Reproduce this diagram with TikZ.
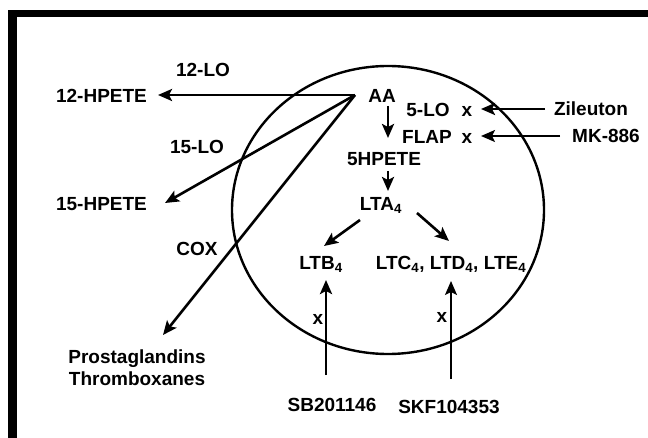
\documentclass[tikz,border=0pt]{standalone}
\usepackage{fontspec}
\setmainfont{Liberation Sans}
\usetikzlibrary{arrows.meta,shapes.geometric}
\begin{document}
\begin{tikzpicture}[x=1pt,y=-1pt,
  lbl/.style={font=\bfseries\fontsize{19}{22}\selectfont, inner sep=0pt, text height=13.6pt, text depth=0pt},
  arr/.style={line width=2.6pt, -{Stealth[length=14pt,width=12pt,inset=3pt]}},
  thinarr/.style={line width=1.9pt, -{Stealth[length=14pt,width=12pt,inset=3pt]}}]
\useasboundingbox[fill=white] (0,0) rectangle (648,438);
% frame
\fill[black] (8,10) rectangle (17,438);
\fill[black] (8,10) rectangle (648,17);
% cell
\node[draw, ellipse, line width=2.4pt, minimum width=312pt, minimum height=288pt, inner sep=0pt] (cell) at (388,210) {};
% labels
\node[lbl] (lo12) at (203,70) {12-LO};
\node[lbl] (hpete12) at (101.5,96) {12-HPETE};
\node[lbl] (AA) at (382,96) {AA};
\node[lbl] (lo5) at (428,110) {5-LO};
\node[lbl] (x1) at (467,110) {x};
\node[lbl] (zil) at (591,109) {Zileuton};
\node[lbl] (flap) at (427,137) {FLAP};
\node[lbl] (x2) at (467,137) {x};
\node[lbl] (mk) at (606,136) {MK-886};
\node[lbl] (lo15) at (197,147) {15-LO};
\node[lbl] (hpete15) at (101.5,204) {15-HPETE};
\node[lbl] (cox) at (197,249) {COX};
\node[lbl] (hpete5) at (384,159) {5HPETE};
\node[lbl] (lta) at (381,204) {LTA\textsubscript{4}};
\node[lbl] (ltb) at (321,263) {LTB\textsubscript{4}};
\node[lbl] (ltc) at (451,263) {LTC\textsubscript{4}, LTD\textsubscript{4}, LTE\textsubscript{4}};
\node[lbl] (x3) at (318,318) {x};
\node[lbl] (x4) at (442,316) {x};
\node[lbl] (pros) at (137,357) {Prostaglandins};
\node[lbl] (thromb) at (137,379) {Thromboxanes};
\node[lbl] (sb) at (332,405) {SB201146};
\node[lbl] (skf) at (449,407) {SKF104353};
% arrow ends
\coordinate (apex) at (355,95);
\coordinate (t12) at (158,95);
\coordinate (t15) at (165,203);
\coordinate (tcox) at (163,335);
\coordinate (aa1) at (388,106);
\coordinate (aa2) at (388,138);
\coordinate (hp1) at (388,171);
\coordinate (hp2) at (388,191);
\coordinate (la1) at (360,220);
\coordinate (la2) at (324,246);
\coordinate (lc1) at (417,213);
\coordinate (lc2) at (449,241);
\coordinate (z1) at (545,109);
\coordinate (z2) at (481,109);
\coordinate (m1) at (560,136);
\coordinate (m2) at (481,136);
\coordinate (sb1) at (326,375);
\coordinate (sb2) at (326,280);
\coordinate (sk1) at (451,379);
\coordinate (sk2) at (451,281);
% connectors
\draw[arr] (apex) -- (t12);
\draw[arr] (apex) -- (t15);
\draw[arr] (apex) -- (tcox);
\draw[arr] (aa1) -- (aa2);
\draw[arr] (hp1) -- (hp2);
\draw[arr] (la1) -- (la2);
\draw[arr] (lc1) -- (lc2);
\draw[arr] (z1) -- (z2);
\draw[thinarr] (m1) -- (m2);
\draw[arr, line width=2.8pt] (sb1) -- (sb2);
\draw[thinarr] (sk1) -- (sk2);
\end{tikzpicture}
\end{document}
